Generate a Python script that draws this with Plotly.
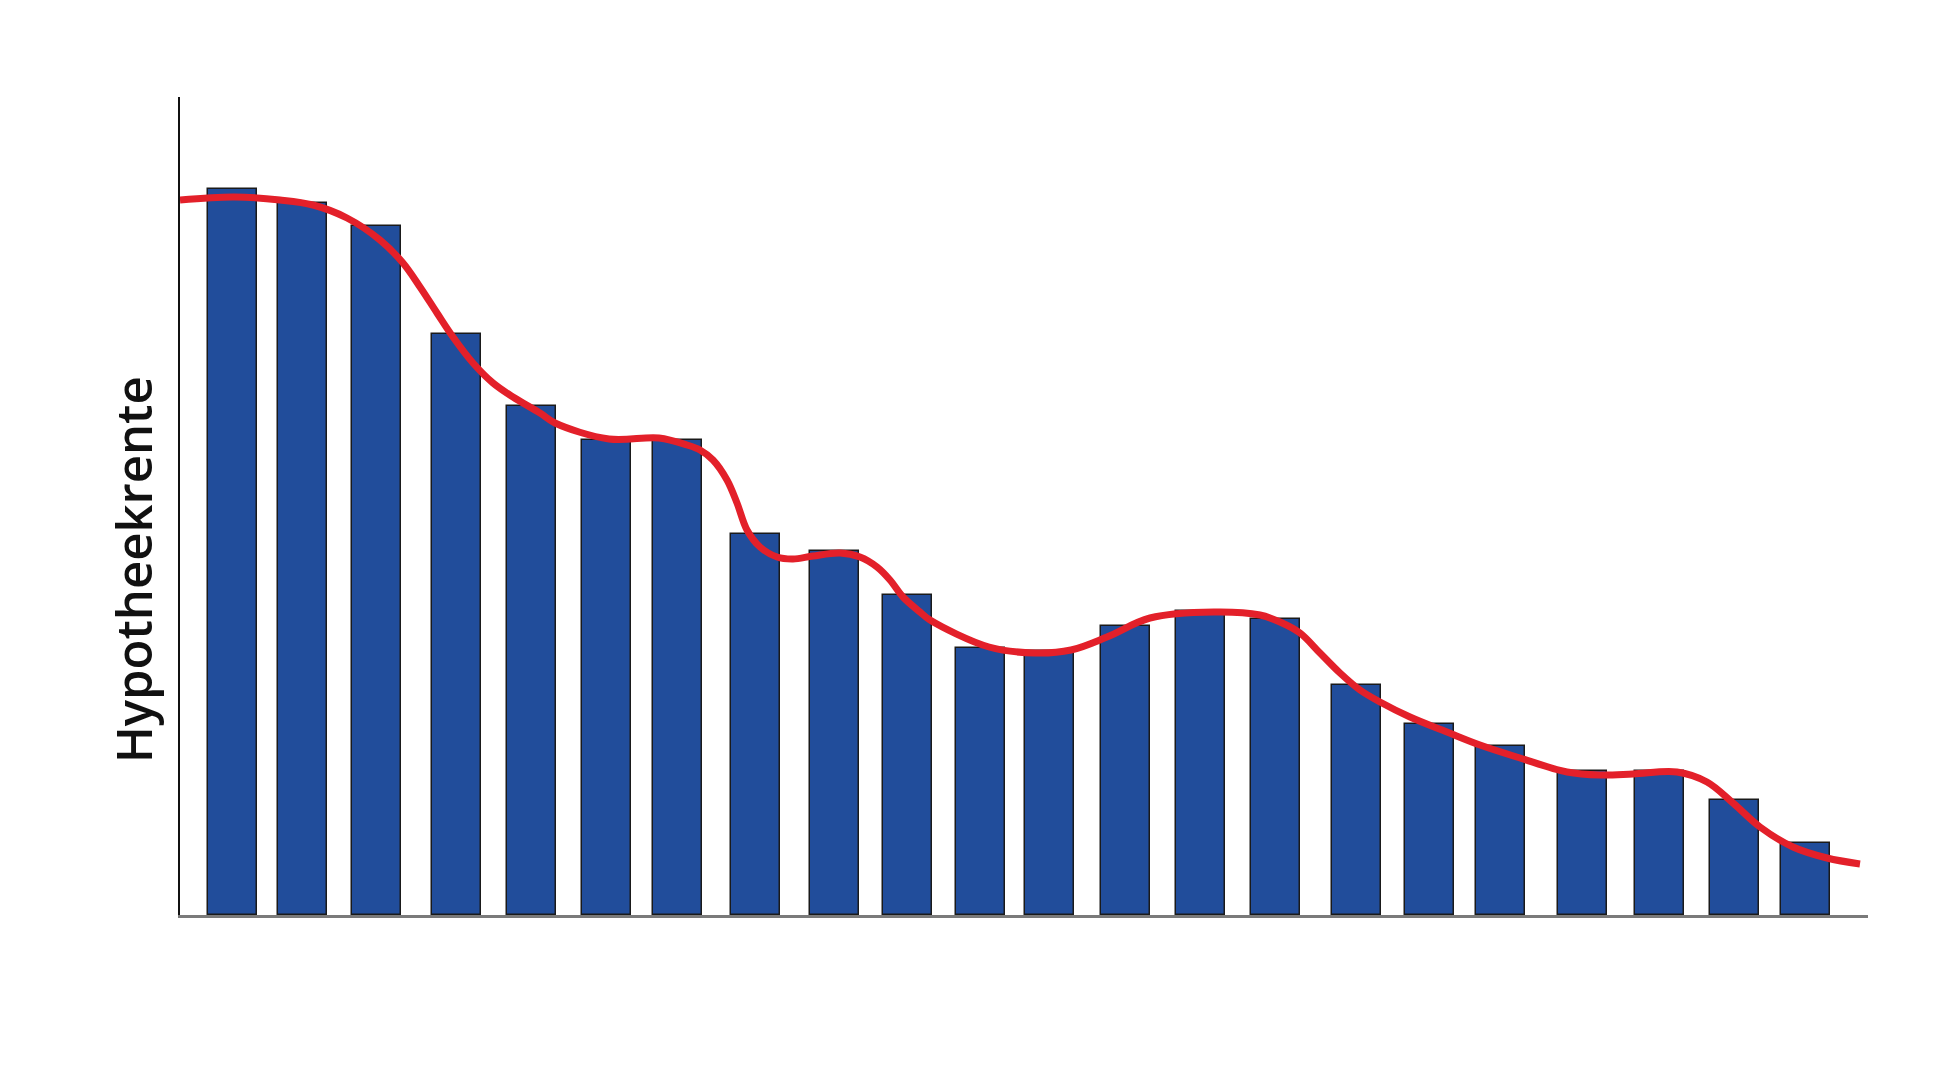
import plotly.graph_objects as go

# Bar positions along the horizontal axis (arbitrary time-like units) and heights
bar_pos = [52.5, 122.5, 196, 276, 351, 426, 497.5, 575, 654, 727.5, 800, 869,
           945, 1020, 1095, 1176, 1249, 1320, 1402.5, 1479, 1554, 1625]
bar_val = [726, 712, 689, 581, 509, 475, 475, 381, 364, 320, 267, 264,
           289, 304, 296, 230, 191, 169, 144, 144, 115, 72]

# Smoothed trend curve
curve_x = [0, 54, 100, 133, 167, 200, 223, 240, 257, 273, 293, 313, 333, 360,
           375, 429, 479, 507, 520, 533, 547, 557, 567, 580, 597, 613, 633, 660,
           680, 697, 710, 723, 740, 750, 809, 855, 891, 927, 970, 1034, 1080,
           1100, 1120, 1140, 1160, 1180, 1200, 1230, 1267, 1300, 1340, 1387,
           1420, 1453, 1497, 1527, 1553, 1580, 1613, 1647, 1680]
curve_y = [715, 718, 715, 710, 697, 675, 652, 628, 602, 578, 552, 532, 518, 502,
           492, 476, 477, 470, 465, 455, 435, 412, 385, 368, 358, 356, 359, 362,
           358, 348, 335, 318, 303, 295, 268, 262, 265, 278, 297, 303, 300,
           293, 282, 262, 242, 225, 213, 198, 183, 170, 157, 143,
           140, 141, 143, 133, 112, 88, 68, 57, 51]

y_title = "Hypotheekrente"

fig = go.Figure()
fig.add_trace(go.Bar(
    x=bar_pos, y=bar_val, width=49,
    marker=dict(color="#214D9B", line=dict(color="#1a1a1a", width=1.5)),
    showlegend=False, hoverinfo="skip",
))
fig.add_trace(go.Scatter(
    x=curve_x, y=curve_y, mode="lines",
    line=dict(color="#E3202A", width=7, shape="spline", smoothing=1.0),
    showlegend=False, hoverinfo="skip",
))

fig.update_layout(
    width=1960, height=1068, autosize=False,
    margin=dict(l=180, r=92, t=97, b=153, pad=0),
    paper_bgcolor="white", plot_bgcolor="white",
    xaxis=dict(range=[0, 1688], showgrid=False, zeroline=False, showticklabels=False,
               ticks="", showline=True, linecolor="#7a7a7a", linewidth=2.5),
    yaxis=dict(range=[0, 818], showgrid=False, zeroline=False, showticklabels=False,
               ticks="", showline=True, linecolor="#111111", linewidth=1.5),
    bargap=0,
    annotations=[dict(
        text=y_title, textangle=-90, showarrow=False,
        xref="paper", yref="paper",
        x=(133 - 180) / 1688, y=(915 - 570) / 818,
        xanchor="center", yanchor="middle",
        font=dict(family="Open Sans", size=49, color="#111111", weight=600),
    )],
)

fig.write_html("out.html")
